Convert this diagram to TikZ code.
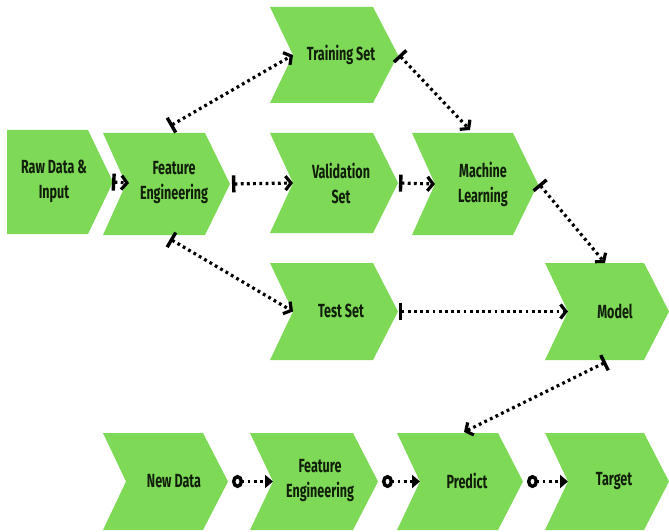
\documentclass[tikz,border=0pt]{standalone}
\usepackage{fontspec}
\setmainfont{Fira Sans}[FakeStretch=0.66]
\usetikzlibrary{arrows.meta}
\definecolor{chevgreen}{HTML}{7ED957}
\definecolor{labtext}{RGB}{16,30,10}
\newcommand{\chev}[5]{%
  \pgfmathsetmacro\ymid{(#4+#5)/2}%
  \fill[chevgreen] (#2,#4) -- ({#3-25},#4) -- (#3,\ymid) -- ({#3-25},#5) -- (#2,#5) -- ({#2+23},\ymid) -- cycle;
  \coordinate (#1-w) at ({#2+23},\ymid);
  \coordinate (#1-e) at (#3,\ymid);
}
\tikzset{
  lab/.style={font=\fontsize{19}{25}\selectfont\bfseries, text=labtext, align=center, inner sep=0pt},
  flow/.style={line width=3.2pt, dash pattern=on 2.8pt off 3.4pt,
    {Bar[width=17pt,line width=3.4pt]}-{Straight Barb[length=5.5pt,width=14pt,line width=3.2pt]}},
  flowb/.style={line width=3.2pt, dash pattern=on 2.8pt off 3.4pt,
    {Circle[open,length=11pt,width=13pt,line width=3.4pt]}-{Triangle[length=8pt,width=13pt]}}
}
\begin{document}
\begin{tikzpicture}[x=1pt,y=-1pt]
\useasboundingbox (0,0) rectangle (669,532);
% Raw data (no notch)
\fill[chevgreen] (7,130) -- (88,130) -- (113,182) -- (88,234) -- (7,234) -- cycle;
\coordinate (raw-e) at (112,182);
\node[lab] (raw) at (54,181) {Raw Data \&\\Input};
% row chevrons
\chev{fe}{103}{230}{133}{235}
\node[lab] (fetext) at (174,183) {Feature\\Engineering};
\chev{train}{270}{398}{7}{103}
\node[lab] (traintext) at (341,55) {Training Set};
\chev{val}{270}{398}{133}{233}
\node[lab] (valtext) at (341,183) {Validation\\Set};
\chev{ml}{412}{538}{133}{235}
\node[lab] (mltext) at (483,184) {Machine\\Learning};
\chev{test}{270}{398}{263}{360}
\node[lab] (testtext) at (341,311) {Test Set};
\chev{model}{545}{669}{263}{360}
\node[lab] (modeltext) at (615,311) {Model};
% bottom row
\chev{nd}{103}{228}{433}{530}
\node[lab] (ndtext) at (174,481) {New Data};
\chev{fe2}{250}{378}{433}{530}
\node[lab] (fe2text) at (320,481) {Feature\\Engineering};
\chev{pred}{397}{523}{433}{530}
\node[lab] (predtext) at (467,481) {Predict};
\chev{tgt}{545}{669}{433}{530}
\node[lab] (tgttext) at (614,481) {Target};
% extra anchors
\coordinate (fe-t) at (170,126);
\coordinate (fe-b) at (170,239);
\coordinate (fe-n) at (129,183);
\coordinate (ml-t) at (470,130);
\coordinate (model-t) at (605,263);
\coordinate (model-b) at (606,362);
\coordinate (pred-t) at (464,432);
% connectors
\draw[flow] (raw-e) -- (fe-n);
\draw[flow] (fe-t) -- (train-w);
\draw[flow] ([xshift=2pt]fe-e) -- (val-w);
\draw[flow] (fe-b) -- (test-w);
\draw[flow] ([xshift=1pt]train-e) -- (ml-t);
\draw[flow] ([xshift=1pt]val-e) -- (ml-w);
\draw[flow] ([xshift=1pt]ml-e) -- (model-t);
\draw[flow] ([xshift=1pt]test-e) -- (model-w);
\draw[flow] (model-b) -- (pred-t);
\draw[flowb] ([xshift=4pt]nd-e) -- (fe2-w);
\draw[flowb] ([xshift=4pt]fe2-e) -- (pred-w);
\draw[flowb] ([xshift=4pt]pred-e) -- (tgt-w);
\end{tikzpicture}
\end{document}
